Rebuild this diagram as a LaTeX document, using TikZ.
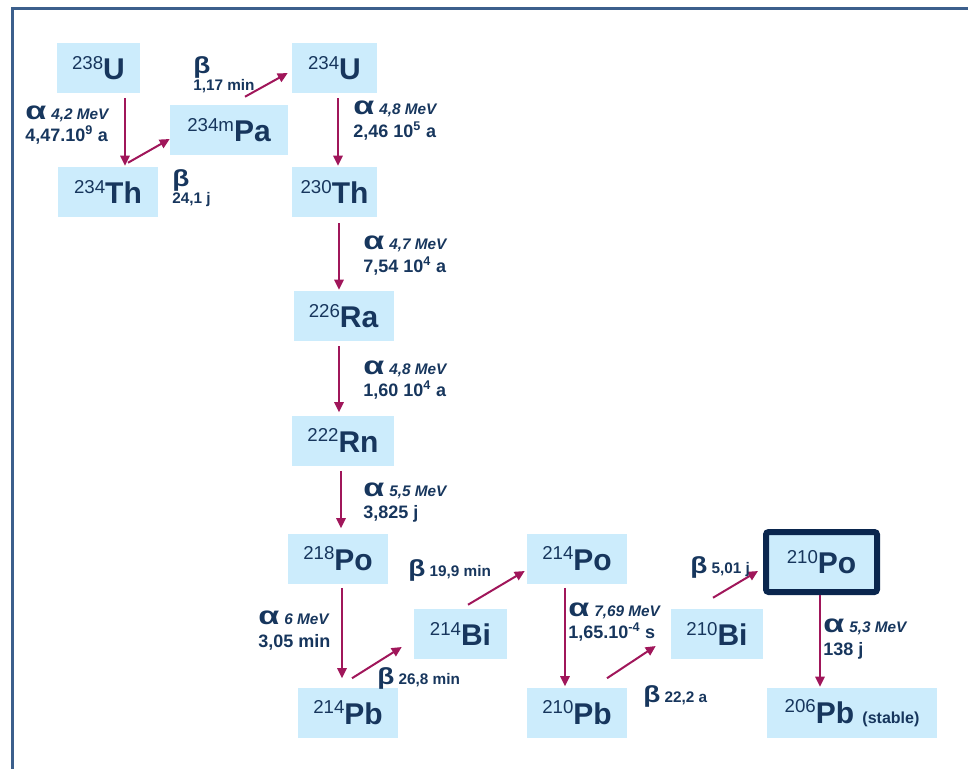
\documentclass[tikz,border=0pt]{standalone}
\usepackage{fontspec}
\usepackage{graphicx}
\setmainfont{Liberation Sans}
\usetikzlibrary{arrows.meta}

\definecolor{navy}{RGB}{23,54,93}
\definecolor{darknavy}{RGB}{10,38,78}
\definecolor{boxblue}{RGB}{204,236,252}
\definecolor{decayred}{RGB}{160,22,90}
\definecolor{framebl}{RGB}{60,95,140}

\newcommand\iso[2]{\raisebox{8pt}{\fontsize{14}{14}\selectfont\mdseries #1}#2}
\newcommand\alp{{\fontsize{19}{16}\selectfont\scalebox{1.35}[1]{α}}}
\newcommand\bet{{\fontsize{17.5}{15}\selectfont\scalebox{1.2}[1]{β}}}
\newcommand\mev[1]{{\itshape\fontsize{11.5}{12}\selectfont #1 MeV}}

\tikzset{
	nuc/.style={fill=boxblue, text=navy, minimum width=#1*0.75pt, minimum height=37.5pt,
		inner sep=0pt, font=\bfseries\fontsize{22.5}{24}\selectfont},
	decay/.style={-{Triangle[length=7.5pt,width=7pt]}, draw=decayred, line width=1.5pt},
	lab/.style={anchor=west, inner sep=0pt, align=left, text=navy,
		font=\bfseries\fontsize{13.5}{17}\selectfont},
	blab/.style={lab, font=\bfseries\fontsize{11.5}{11.5}\selectfont}
}

\begin{document}
\begin{tikzpicture}[x=0.75pt,y=-0.75pt]
				\useasboundingbox (0,0) rectangle (968,769);
				% Frame
				\draw[framebl, line width=2.25pt] (968,8.5) -- (12,8.5) -- (12,769);
				
				% Nuclides
				\node[nuc=83] (u238) at (98.5,68) {\iso{238}{U}};
				\node[nuc=100] (th234) at (108,192) {\iso{234}{Th}};
				\node[nuc=118] (pa234) at (229,130) {\iso{234m}{Pa}};
				\node[nuc=85] (u234) at (334.5,68) {\iso{234}{U}};
				\node[nuc=85] (th230) at (334.5,192) {\iso{230}{Th}};
				\node[nuc=100] (ra226) at (343.5,316) {\iso{226}{Ra}};
				\node[nuc=102] (rn222) at (343,440.5) {\iso{222}{Rn}};
				\node[nuc=100] (po218) at (338,558.5) {\iso{218}{Po}};
				\node[nuc=100] (pb214) at (348,712.5) {\iso{214}{Pb}};
				\node[nuc=93] (bi214) at (460.5,634) {\iso{214}{Bi}};
				\node[nuc=100] (po214) at (577,558.5) {\iso{214}{Po}};
				\node[nuc=100] (pb210) at (577,712.5) {\iso{210}{Pb}};
				\node[nuc=92] (bi210) at (717,634) {\iso{210}{Bi}};
				\node[nuc=111, minimum height=45pt, draw=darknavy, line width=4.5pt, rounded corners=2pt] (po210) at (821.5,562) {\iso{210}{Po}};
				\node[nuc=170] (pb206) at (852,713) {\iso{206}{Pb} {\fontsize{12}{12}\selectfont(stable)}};
				
				% Alpha decays
				\draw[decay] ([shift={(26.5,5)}]u238.south) -- ([shift={(17,-1)}]th234.north);
				\draw[decay] ([shift={(3.5,5)}]u234.south) -- ([shift={(3.5,-1)}]th230.north);
				\draw[decay] ([shift={(4.5,6)}]th230.south) -- ([shift={(-4.5,-1)}]ra226.north);
				\draw[decay] ([shift={(-4.5,5)}]ra226.south) -- ([shift={(-4,-3)}]rn222.north);
				\draw[decay] ([shift={(-2,5)}]rn222.south) -- ([shift={(3,-5)}]po218.north);
				\draw[decay] ([shift={(4,4)}]po218.south) -- ([shift={(-6,-9)}]pb214.north);
				\draw[decay] ([shift={(-12,4)}]po214.south) -- ([shift={(-12,-1)}]pb210.north);
				\draw[decay] ([shift={(-1.5,0)}]po210.south) -- ([shift={(-32,-1)}]pb206.north);
				
				% Beta decays
				\draw[decay] ([shift={(20,-4)}]th234.north) -- ([shift={(0,9)}]pa234.west);
				\draw[decay] ([shift={(16,-8)}]pa234.north) -- ([shift={(-4,5)}]u234.west);
				\draw[decay] ([shift={(4,-9)}]pb214.north) -- ([shift={(-12,13)}]bi214.west);
				\draw[decay] ([shift={(7.5,-4)}]bi214.north) -- ([shift={(-2,12.5)}]po214.west);
				\draw[decay] ([shift={(30,-9)}]pb210.north) -- ([shift={(-15,12)}]bi210.west);
				\draw[decay] ([shift={(-4,-11)}]bi210.north) -- ([shift={(-5,9)}]po210.west);
				
				% Alpha labels
				\node[lab] (a1) at (25,125) {\alp\ \mev{4,2}\\4,47.10\textsuperscript{9} a};
				\node[lab] (a2) at (353,120.5) {\alp\ \mev{4,8}\\2,46 10\textsuperscript{5} a};
				\node[lab] (a3) at (363,255.5) {\alp\ \mev{4,7}\\7,54 10\textsuperscript{4} a};
				\node[lab] (a4) at (363,380) {\alp\ \mev{4,8}\\1,60 10\textsuperscript{4} a};
				\node[lab] (a5) at (363,502.5) {\alp\ \mev{5,5}\\3,825 j};
				\node[lab] (a6) at (258,630.5) {\alp\ \mev{6}\\3,05 min};
				\node[lab] (a7) at (568,622) {\alp\ \mev{7,69}\\1,65.10\textsuperscript{-4} s};
				\node[lab] (a8) at (823,639) {\alp\ \mev{5,3}\\138 j};
				
				% Beta labels
				\node[blab] (b1) at (193,75) {\bet\\1,17 min};
				\node[blab] (b2) at (172,188) {\bet\\24,1 j};
				\node[blab] (b3) at (408,570) {\bet\ 19,9 min};
				\node[blab] (b4) at (377,678) {\bet\ 26,8 min};
				\node[blab] (b5) at (643,696) {\bet\ 22,2 a};
				\node[blab] (b6) at (690,567) {\bet\ 5,01 j};
			\end{tikzpicture}
\end{document}
